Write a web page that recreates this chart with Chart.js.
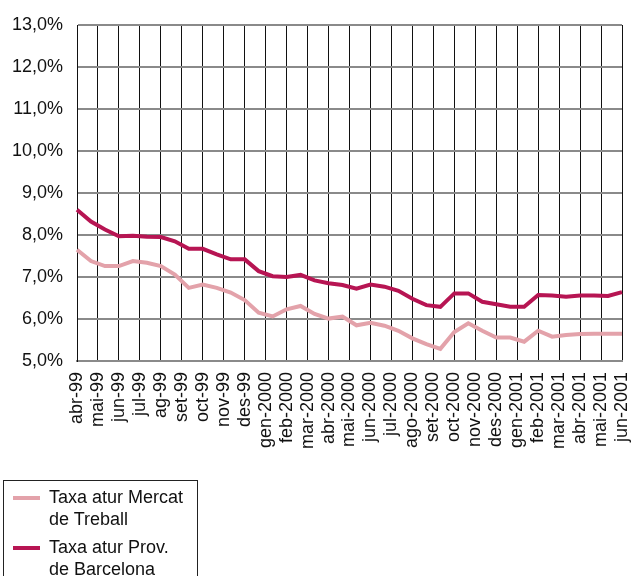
<!DOCTYPE html>
<html><head><meta charset="utf-8">
<script src="https://cdn.jsdelivr.net/npm/chart.js@4/dist/chart.umd.min.js"></script>
<style>
html,body{margin:0;padding:0;background:#fff;}
#wrap{position:relative;width:635px;height:576px;overflow:hidden;font-family:"Liberation Sans",Arial,sans-serif;}
#c{position:absolute;left:0;top:0;}
#legend{position:absolute;left:3px;top:480px;width:195px;height:110px;border:1px solid #222;box-sizing:border-box;}
.swatch{position:absolute;left:9px;width:27px;height:4px;}
.txt{position:absolute;left:45px;font-size:18px;line-height:22px;color:#111;white-space:nowrap;}
</style></head>
<body>
<div id="wrap">
<canvas id="c" width="635" height="576"></canvas>
<div id="legend">
  <div class="swatch" style="top:15px;background:#e3a2aa"></div>
  <div class="txt" style="top:5px">Taxa atur Mercat<br>de Treball</div>
  <div class="swatch" style="top:65px;background:#b71553"></div>
  <div class="txt" style="top:55px">Taxa atur Prov.<br>de Barcelona</div>
</div>
</div>
<script>
const monthLabels = ['abr-99','mai-99','jun-99','jul-99','ag-99','set-99','oct-99','nov-99','des-99',
  'gen-2000','feb-2000','mar-2000','abr-2000','mai-2000','jun-2000','jul-2000','ago-2000','set-2000',
  'oct-2000','nov-2000','des-2000','gen-2001','feb-2001','mar-2001','abr-2001','mai-2001','jun-2001'];

const mercatTreball = [7.65,7.38,7.26,7.26,7.38,7.34,7.26,7.06,6.74,6.82,
  6.74,6.63,6.45,6.15,6.06,6.23,6.31,6.12,6.01,6.06,
  5.85,5.91,5.84,5.72,5.54,5.40,5.29,5.69,5.90,5.72,
  5.56,5.56,5.46,5.72,5.58,5.62,5.64,5.65,5.65,5.65];

const provBarcelona = [8.60,8.32,8.13,7.97,7.98,7.96,7.95,7.85,7.67,7.67,
  7.54,7.42,7.42,7.14,7.02,7.00,7.05,6.92,6.85,6.81,
  6.72,6.82,6.77,6.67,6.48,6.33,6.29,6.61,6.61,6.41,
  6.35,6.29,6.29,6.57,6.56,6.53,6.56,6.56,6.55,6.64];

const yTicks = [5,6,7,8,9,10,11,12,13];
const pointSlots = mercatTreball.map((_, i) => String(i));

const FONT = {family: '"Liberation Sans", Arial, sans-serif', size: 18};

new Chart(document.getElementById('c'), {
  type: 'line',
  data: {
    labels: pointSlots,
    datasets: [
      {label: 'Taxa atur Mercat de Treball', data: mercatTreball, xAxisID: 'xData',
       borderColor: '#e3a2aa', borderWidth: 4, pointRadius: 0, tension: 0, fill: false},
      {label: 'Taxa atur Prov. de Barcelona', data: provBarcelona, xAxisID: 'xData',
       borderColor: '#b71553', borderWidth: 4, pointRadius: 0, tension: 0, fill: false}
    ]
  },
  options: {
    responsive: false,
    animation: false,
    layout: {padding: {top: 25, right: 13, left: 0, bottom: 115}},
    plugins: {legend: {display: false}, tooltip: {enabled: false}},
    scales: {
      x: {
        type: 'category', labels: monthLabels, position: 'bottom', offset: false,
        grid: {color: '#111', lineWidth: 1, drawTicks: false},
        border: {color: '#8a8a8a', width: 2},
        ticks: {maxRotation: 90, minRotation: 90, autoSkip: false, padding: 11, font: FONT, color: '#111'},
        afterFit(s) { s.height = 100; s.paddingLeft = 0; s.paddingRight = 0; }
      },
      xData: {type: 'category', labels: pointSlots, display: false, offset: false,
        afterFit(s) { s.paddingLeft = 0; s.paddingRight = 0; }},
      y: {
        min: 5, max: 13,
        afterBuildTicks(s) { s.ticks = yTicks.map(v => ({value: v})); },
        grid: {color: '#8a8a8a', lineWidth: 2, drawTicks: false},
        border: {color: '#111', width: 1},
        ticks: {padding: 14, font: FONT, color: '#111',
          callback: v => v.toFixed(1).replace('.', ',') + '%'},
        afterFit(s) { s.width = 77; s.paddingTop = 0; s.paddingBottom = 0; }
      }
    }
  }
});
</script>
</body></html>
